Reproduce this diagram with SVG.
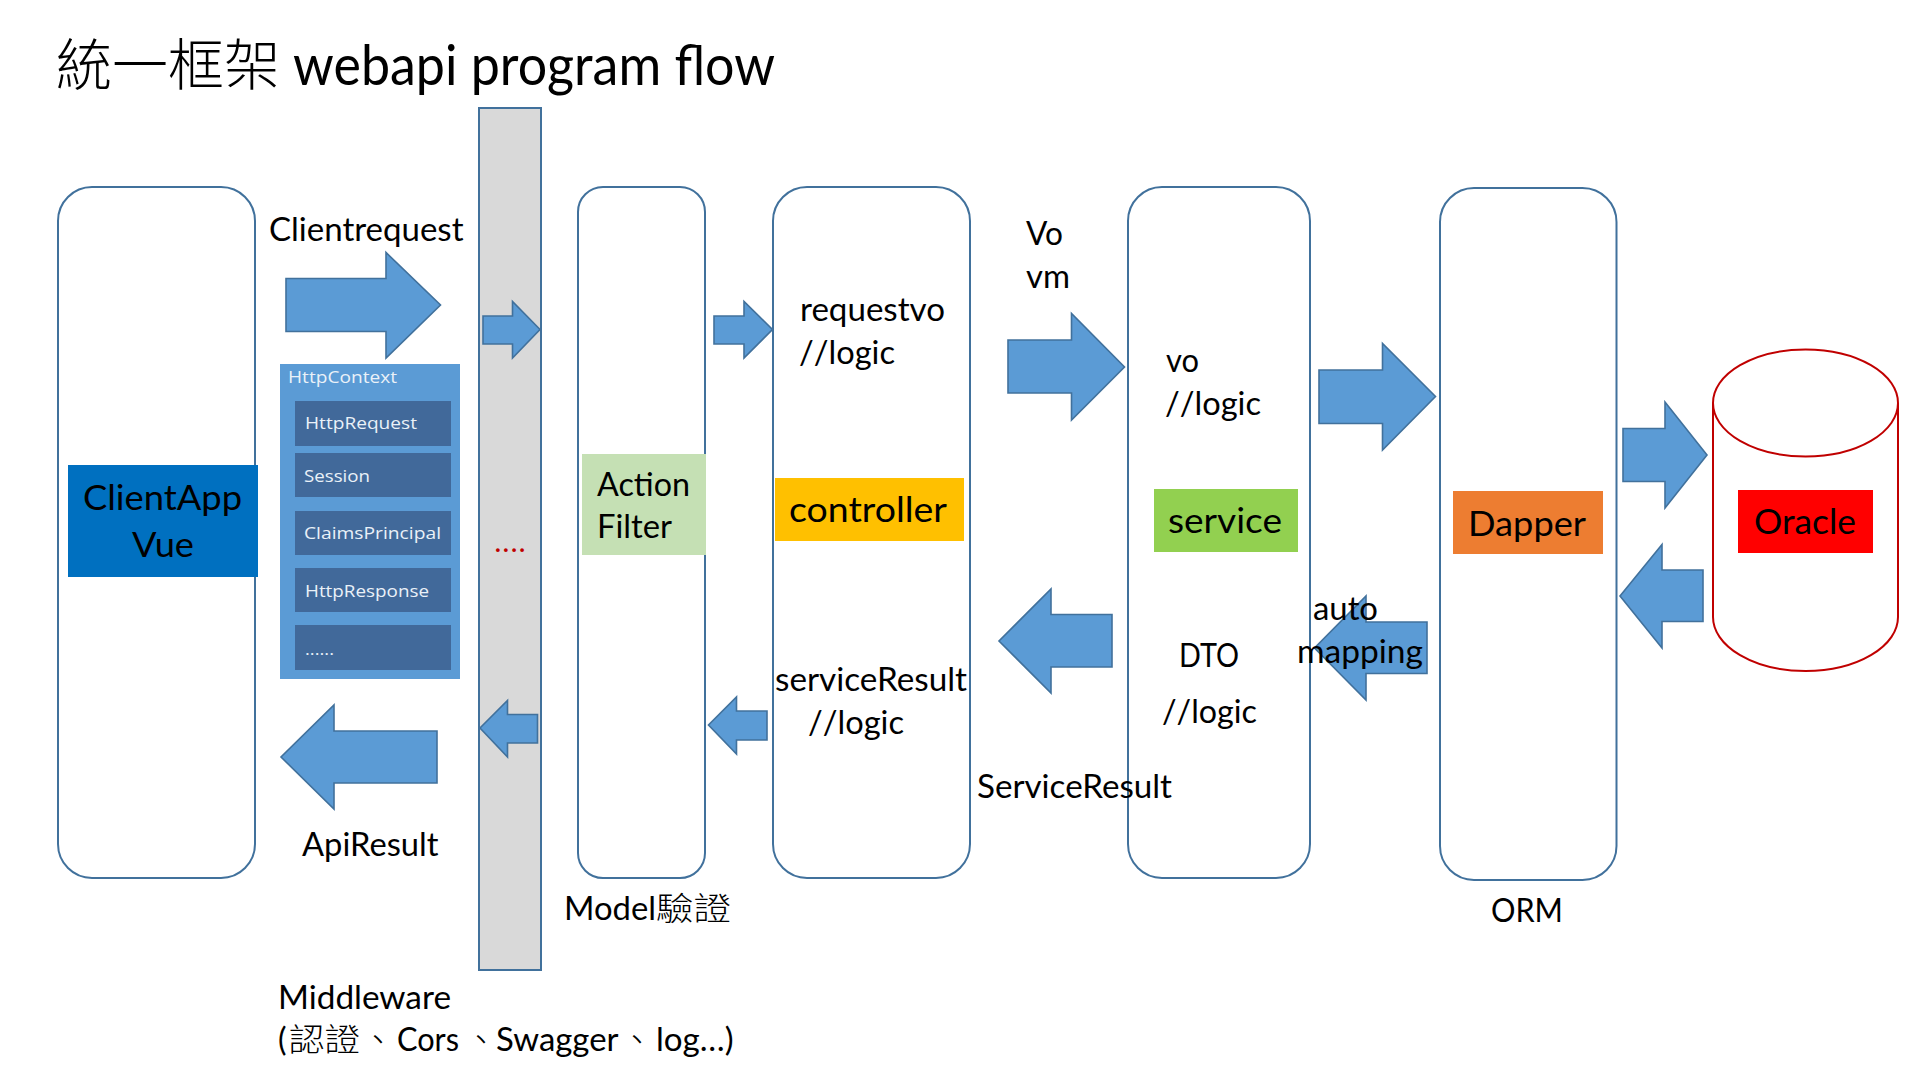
<svg xmlns="http://www.w3.org/2000/svg" width="1920" height="1080" viewBox="0 0 1920 1080">
<style>
text{font-family:"Lato","Noto Sans CJK TC",sans-serif;font-size:32px;fill:#000}
.cjk{font-family:"Noto Sans CJK TC",sans-serif;font-weight:300}
.nk{font-kerning:none}
.box{fill:#fff;stroke:#41719C;stroke-width:2}
.arrow{fill:#5B9BD5;stroke:#41719C;stroke-width:1.6}
.tag{stroke:none}
.row{fill:#41699A}
.ctx{font-family:"Open Sans",sans-serif;font-size:17px;fill:#EAF1F8}
</style>
<rect width="1920" height="1080" fill="#fff"/>
<g id="title">
<text y="85" style="font-size:56px"><tspan class="cjk" x="56">統一框架 </tspan><tspan x="293" textLength="482" lengthAdjust="spacingAndGlyphs">webapi program flow</tspan></text>
</g>
<g id="client-app">
<rect class="box" x="58" y="187" width="197" height="691" rx="34"/>
<rect class="tag" x="68" y="465" width="190" height="112" fill="#0070C0"/>
<text x="83" y="510" textLength="159" lengthAdjust="spacingAndGlyphs" style="font-size:35px">ClientApp</text>
<text x="132" y="557" textLength="62" lengthAdjust="spacingAndGlyphs" style="font-size:35px">Vue</text>
</g>
<g id="http-context">
<rect x="280" y="364" width="180" height="315" fill="#5B9BD5"/>
<text class="ctx" x="288" y="383" textLength="109" lengthAdjust="spacingAndGlyphs">HttpContext</text>
<rect class="row" x="295" y="401" width="156" height="45"/>
<text class="ctx" x="305" y="429" textLength="112" lengthAdjust="spacingAndGlyphs">HttpRequest</text>
<rect class="row" x="295" y="453" width="156" height="44"/>
<text class="ctx" x="304" y="482" textLength="66" lengthAdjust="spacingAndGlyphs">Session</text>
<rect class="row" x="295" y="511" width="156" height="44"/>
<text class="ctx" x="304" y="539" textLength="137" lengthAdjust="spacingAndGlyphs">ClaimsPrincipal</text>
<rect class="row" x="295" y="568" width="156" height="44"/>
<text class="ctx" x="305" y="597" textLength="124" lengthAdjust="spacingAndGlyphs">HttpResponse</text>
<rect class="row" x="295" y="625" width="156" height="45"/>
<text class="ctx" x="305" y="655" textLength="29" lengthAdjust="spacingAndGlyphs">......</text>
</g>
<g id="middleware">
<rect x="479" y="108" width="62" height="862" fill="#D9D9D9" stroke="#41719C" stroke-width="2"/>
<text x="495" y="552" textLength="30" lengthAdjust="spacing" style="font-size:24px;fill:#C00000;font-weight:700">....</text>
</g>
<g id="action-filter">
<rect class="box" x="578" y="187" width="127" height="691" rx="25"/>
<rect class="tag" x="582" y="454" width="124" height="101" fill="#C5E0B4"/>
<text x="597" y="496" textLength="93" lengthAdjust="spacingAndGlyphs">Action</text>
<text x="597" y="538" textLength="75" lengthAdjust="spacingAndGlyphs">Filter</text>
</g>
<g id="controller">
<rect class="box" x="773" y="187" width="197" height="691" rx="34"/>
<rect class="tag" x="775" y="478" width="189" height="63" fill="#FFC000"/>
<text x="789" y="522" textLength="158" lengthAdjust="spacingAndGlyphs" style="font-size:34px">controller</text>
<text x="800" y="321" textLength="145" lengthAdjust="spacingAndGlyphs">requestvo</text>
<text class="nk" x="799" y="364" textLength="96" lengthAdjust="spacingAndGlyphs">//logic</text>
<text x="775" y="691" textLength="192" lengthAdjust="spacingAndGlyphs">serviceResult</text>
<text class="nk" x="808" y="734" textLength="96" lengthAdjust="spacingAndGlyphs">//logic</text>
</g>
<g id="service">
<rect class="box" x="1128" y="187" width="182" height="691" rx="34"/>
<rect class="tag" x="1154" y="489" width="144" height="63" fill="#92D050"/>
<text x="1168" y="533" textLength="114" lengthAdjust="spacingAndGlyphs" style="font-size:34px">service</text>
<text x="1166" y="372" textLength="33" lengthAdjust="spacingAndGlyphs">vo</text>
<text class="nk" x="1165" y="415" textLength="96" lengthAdjust="spacingAndGlyphs">//logic</text>
<text x="1179" y="667" textLength="60" lengthAdjust="spacingAndGlyphs">DTO</text>
<text class="nk" x="1162" y="723" textLength="95" lengthAdjust="spacingAndGlyphs">//logic</text>
</g>
<g id="dapper">
<rect class="box" x="1440" y="188" width="176.5" height="692" rx="34"/>
<rect class="tag" x="1453" y="491" width="150" height="63" fill="#ED7D31"/>
<text x="1468" y="536" textLength="118" lengthAdjust="spacingAndGlyphs" style="font-size:34px">Dapper</text>
</g>
<g id="oracle">
<path d="M1713 403V617A92.5 54 0 0 0 1898 617V403" fill="#fff" stroke="#C00000" stroke-width="2"/>
<ellipse cx="1805.5" cy="403" rx="92.5" ry="53.5" fill="#fff" stroke="#C00000" stroke-width="2"/>
<rect class="tag" x="1738" y="490" width="135" height="63" fill="#FF0000"/>
<text x="1754" y="534" textLength="102" lengthAdjust="spacingAndGlyphs" style="font-size:34px">Oracle</text>
</g>
<g id="connectors">
<polygon class="arrow" points="286,278.5 386,278.5 386,252.5 440.5,305 386,358 386,331.5 286,331.5"/>
<polygon class="arrow" points="483,316 512.5,316 512.5,301.5 540,329.5 512.5,358 512.5,344 483,344"/>
<polygon class="arrow" points="714,316 744,316 744,301.5 772.5,329.5 744,358 744,344 714,344"/>
<polygon class="arrow" points="1008,340 1071.5,340 1071.5,313.5 1124.5,367 1071.5,420 1071.5,393 1008,393"/>
<polygon class="arrow" points="1319,370 1382.5,370 1382.5,343.5 1435.5,396.5 1382.5,450 1382.5,423.5 1319,423.5"/>
<polygon class="arrow" points="1623,428.5 1665,428.5 1665,402 1707,455 1665,508 1665,481.5 1623,481.5"/>
<polygon class="arrow" points="1703,570 1662,570 1662,544.5 1620,596 1662,648 1662,621.5 1703,621.5"/>
<polygon class="arrow" points="1427,622 1366,622 1366,596 1314.5,648 1366,700 1366,673.5 1427,673.5"/>
<polygon class="arrow" points="1112,614.5 1051,614.5 1051,589 999,641 1051,693 1051,667 1112,667"/>
<polygon class="arrow" points="767,711 736.5,711 736.5,697 708.5,725 736.5,754 736.5,740 767,740"/>
<polygon class="arrow" points="537.5,714.5 507.5,714.5 507.5,700.5 480,728 507.5,757 507.5,743 537.5,743"/>
<polygon class="arrow" points="437,731 334,731 334,705 281,757 334,809 334,783 437,783"/>
</g>
<g id="labels">
<text x="269" y="241" textLength="194.5" lengthAdjust="spacingAndGlyphs">Clientrequest</text>
<text x="1026" y="245" textLength="37" lengthAdjust="spacingAndGlyphs">Vo</text>
<text x="1026" y="288" textLength="44" lengthAdjust="spacingAndGlyphs">vm</text>
<text x="1313" y="620" textLength="65" lengthAdjust="spacingAndGlyphs">auto</text>
<text x="1297" y="663" textLength="126" lengthAdjust="spacingAndGlyphs">mapping</text>
<text x="977" y="798" textLength="195" lengthAdjust="spacingAndGlyphs">ServiceResult</text>
<text x="302" y="856" textLength="136.5" lengthAdjust="spacingAndGlyphs">ApiResult</text>
<text y="920"><tspan x="564" textLength="92" lengthAdjust="spacingAndGlyphs">Model</tspan><tspan class="cjk" x="656" textLength="75" lengthAdjust="spacingAndGlyphs">驗證</tspan></text>
<text x="1491" y="922" textLength="72" lengthAdjust="spacingAndGlyphs">ORM</text>
<text x="278" y="1009" textLength="173" lengthAdjust="spacingAndGlyphs">Middleware</text>
<text y="1051"><tspan x="278">(</tspan><tspan class="cjk" x="289" textLength="71" lengthAdjust="spacingAndGlyphs">認證</tspan><tspan class="cjk" x="362">、</tspan><tspan x="397" textLength="62" lengthAdjust="spacingAndGlyphs">Cors</tspan><tspan class="cjk" x="465">、</tspan><tspan x="496" textLength="122.5" lengthAdjust="spacingAndGlyphs">Swagger</tspan><tspan class="cjk" x="621">、</tspan><tspan x="656" textLength="77.5" lengthAdjust="spacingAndGlyphs">log…)</tspan></text>
</g>
</svg>
